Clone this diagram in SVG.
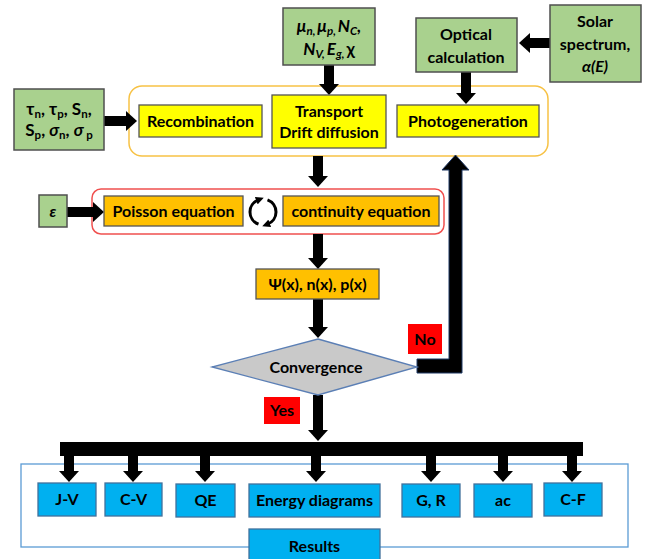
<svg xmlns="http://www.w3.org/2000/svg" width="648" height="559" viewBox="0 0 648 559">
<defs>
<style>
text{font-family:Lato,"Open Sans","Liberation Sans",sans-serif;font-weight:bold;font-size:16px;fill:#000;text-anchor:middle}
.green{fill:#a9d18e;stroke:#4f4f4f;stroke-width:1.5}
.yellow{fill:#ffff00;stroke:#555;stroke-width:1.3}
.orange{fill:#ffc000;stroke:#555;stroke-width:1.3}
.blue{fill:#00b0f0;stroke:#41719c;stroke-width:1.3}
.red{fill:#ff0000}
.arrow{stroke:#000;stroke-width:10;fill:none;marker-end:url(#head)}
.it{font-style:italic}
.param{font-size:17px}
.sub{font-size:11.5px}
</style>
<marker id="head" viewBox="0 0 11 20" markerUnits="strokeWidth" markerWidth="1.1" markerHeight="2" refX="0" refY="10" orient="auto">
<path d="M0,0 L11,10 L0,20 z" fill="#000"/>
</marker>
<marker id="small" viewBox="0 0 10 10" markerUnits="userSpaceOnUse" markerWidth="8" markerHeight="8" refX="3" refY="5" orient="auto">
<path d="M0,0 L10,5 L0,10 z" fill="#000"/>
</marker>
</defs>

<rect x="0" y="0" width="648" height="559" fill="#fff"/>

<!-- containers -->
<g id="container-transport">
<rect x="129" y="86" width="419" height="70" rx="13" fill="none" stroke="#f7c245" stroke-width="1.5"/>
</g>
<g id="container-solver">
<rect x="92" y="189" width="352" height="45" rx="9" fill="none" stroke="#f0504f" stroke-width="1.5"/>
</g>
<g id="container-results">
<rect x="21" y="464" width="607" height="83" fill="none" stroke="#5b9bd5" stroke-width="1.3"/>
</g>

<!-- connectors -->
<g id="connectors">
<line class="arrow" x1="104" y1="121" x2="126" y2="121"/>
<line class="arrow" x1="329" y1="65" x2="329" y2="84"/>
<line class="arrow" x1="466" y1="72" x2="466" y2="93"/>
<line class="arrow" x1="550" y1="43" x2="530" y2="43"/>
<line class="arrow" x1="318" y1="156" x2="318" y2="176"/>
<line class="arrow" x1="67" y1="212" x2="93" y2="212"/>
<line class="arrow" x1="318" y1="234" x2="318" y2="258"/>
<line class="arrow" x1="318" y1="299" x2="318" y2="327"/>
<line class="arrow" x1="318" y1="395" x2="318" y2="430"/>
<path d="M417,359 L449,359 L449,170 L442,170 L455.5,155 L469,170 L462,170 L462,373 L417,373 z" fill="#000" stroke="#1f3864" stroke-width="1"/>
<rect x="60" y="442" width="523" height="14" fill="#000"/>
<line class="arrow" x1="69" y1="455" x2="69" y2="471"/>
<line class="arrow" x1="133" y1="455" x2="133" y2="471"/>
<line class="arrow" x1="205" y1="455" x2="205" y2="471"/>
<line class="arrow" x1="316" y1="455" x2="316" y2="471"/>
<line class="arrow" x1="431" y1="455" x2="431" y2="471"/>
<line class="arrow" x1="503" y1="455" x2="503" y2="471"/>
<line class="arrow" x1="572" y1="455" x2="572" y2="471"/>
<!-- circular arrows -->
<path d="M258.5,224.2 A13,13 0 0 1 258.5,199.8" fill="none" stroke="#000" stroke-width="3" marker-end="url(#small)"/>
<path d="M267.5,199.8 A13,13 0 0 1 267.5,224.2" fill="none" stroke="#000" stroke-width="3" marker-end="url(#small)"/>
</g>

<!-- nodes -->
<g id="params-recomb">
<rect class="green" x="14" y="89" width="90" height="61"/>
<text x="59" y="115" class="param">τ<tspan class="sub" dy="2.5">n</tspan><tspan dy="-2.5">, τ</tspan><tspan class="sub" dy="2.5">p</tspan><tspan dy="-2.5">, S</tspan><tspan class="sub" dy="2.5">n</tspan><tspan dy="-2.5">,</tspan></text>
<text x="59" y="136" class="param">S<tspan class="sub" dy="2.5">p</tspan><tspan dy="-2.5">, </tspan><tspan class="it">σ</tspan><tspan class="sub" dy="2.5">n</tspan><tspan dy="-2.5">, </tspan><tspan class="it">σ</tspan><tspan class="sub" dy="2.5"> p</tspan></text>
</g>

<g id="params-material">
<rect class="green" x="283" y="8" width="92" height="57"/>
<text x="329" y="32" class="param it">μ<tspan class="sub" dy="2.5">n,</tspan><tspan dy="-2.5" dx="2">μ</tspan><tspan class="sub" dy="2.5">p,</tspan><tspan dy="-2.5" dx="2">N</tspan><tspan class="sub" dy="2.5">C</tspan><tspan dy="-2.5">,</tspan></text>
<text x="329" y="55" class="param it">N<tspan class="sub" dy="2.5">V,</tspan><tspan dy="-2.5" dx="2">E</tspan><tspan class="sub" dy="2.5">g,</tspan><tspan dy="-2.5" dx="2" style="font-style:normal">χ</tspan></text>
</g>

<g id="optical">
<rect class="green" x="416" y="18" width="101" height="54"/>
<text x="466" y="40">Optical</text>
<text x="466" y="63">calculation</text>
</g>

<g id="solar">
<rect class="green" x="550" y="5" width="91" height="77"/>
<text x="595" y="27">Solar</text>
<text x="595" y="50">spectrum,</text>
<text x="595" y="72" class="it">α(E)</text>
</g>

<g id="recombination">
<rect class="yellow" x="139" y="105" width="123" height="32"/>
<text x="200.5" y="127">Recombination</text>
</g>

<g id="transport">
<rect class="yellow" x="272" y="95" width="114" height="53"/>
<text x="329" y="117">Transport</text>
<text x="329" y="138">Drift diffusion</text>
</g>

<g id="photogeneration">
<rect class="yellow" x="397" y="105" width="142" height="32"/>
<text x="468" y="127">Photogeneration</text>
</g>

<g id="epsilon">
<rect class="green" x="39" y="195" width="28" height="32"/>
<text x="53" y="217" class="it">ε</text>
</g>

<g id="poisson">
<rect class="orange" x="104" y="196" width="139" height="30"/>
<text x="173.5" y="217">Poisson equation</text>
</g>

<g id="continuity">
<rect class="orange" x="283" y="196" width="156" height="30"/>
<text x="361" y="217">continuity equation</text>
</g>

<g id="solution">
<rect class="orange" x="256" y="269" width="123" height="30"/>
<text x="317.5" y="290">Ψ(x), n(x), p(x)</text>
</g>

<g id="convergence">
<polygon points="318,339 417,367 318,395 212,367" fill="#c9c9c9" stroke="#5b7fb5" stroke-width="1.3"/>
<text x="316" y="373">Convergence</text>
</g>

<g id="label-no">
<rect class="red" x="408" y="324" width="34" height="30"/>
<text x="425" y="345">No</text>
</g>

<g id="label-yes">
<rect class="red" x="264" y="397" width="36" height="27"/>
<text x="282" y="416">Yes</text>
</g>

<g id="out-jv">
<rect class="blue" x="38" y="483" width="58" height="33"/>
<text x="67" y="505">J-V</text>
</g>
<g id="out-cv">
<rect class="blue" x="105" y="483" width="57" height="33"/>
<text x="133.5" y="505">C-V</text>
</g>
<g id="out-qe">
<rect class="blue" x="176" y="484" width="59" height="33"/>
<text x="205.5" y="506">QE</text>
</g>
<g id="out-energy">
<rect class="blue" x="249" y="484" width="131" height="33"/>
<text x="314.5" y="506">Energy diagrams</text>
</g>
<g id="out-gr">
<rect class="blue" x="402" y="484" width="58" height="33"/>
<text x="431" y="506">G, R</text>
</g>
<g id="out-ac">
<rect class="blue" x="474" y="484" width="58" height="33"/>
<text x="503" y="506">ac</text>
</g>
<g id="out-cf">
<rect class="blue" x="544" y="483" width="58" height="33"/>
<text x="573" y="505">C-F</text>
</g>
<g id="results">
<rect class="blue" x="249" y="529" width="131" height="35"/>
<text x="314.5" y="552">Results</text>
</g>
</svg>
